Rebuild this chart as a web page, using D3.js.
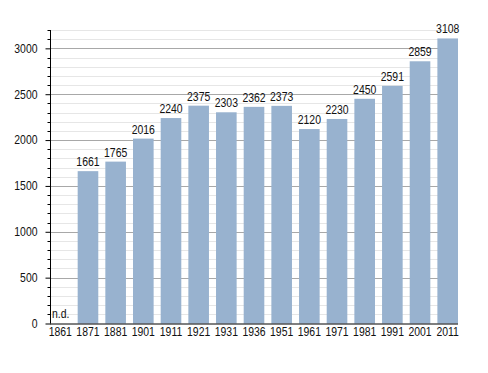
<!DOCTYPE html>
<html><head><meta charset="utf-8">
<script src="https://cdn.jsdelivr.net/npm/d3@7"></script>
<style>body{margin:0;background:#fff}svg{display:block}text{font-family:"Liberation Sans",Arial,sans-serif}</style>
</head><body>
<svg id="c" width="488" height="373"></svg>
<script>
const years = ["1861","1871","1881","1901","1911","1921","1931","1936","1951","1961","1971","1981","1991","2001","2011"];
const population = [null,1661,1765,2016,2240,2375,2303,2362,2373,2120,2230,2450,2591,2859,3108];
const yTicks = [0,500,1000,1500,2000,2500,3000];
const missingLabel = "n.d.";

(function(){
const FONT = "Liberation Sans, Arial, sans-serif";
const FS = 12, SX = 0.87;
const svg = d3.select("#c");
const mLeft = 50, mRight = 458, mTop = 30, mBottom = 323.5;
const x = d3.scaleBand().domain(years).range([mLeft, mRight]).paddingInner(0.255).paddingOuter(0).align(0);
const y = d3.scaleLinear().domain([0, 3200]).range([mBottom, mTop]);

// grid
const minor = d3.range(100, 3201, 100).filter(v => v % 500 !== 0);
svg.append("g").selectAll("line").data(minor).join("line")
  .attr("x1", mLeft + 1).attr("x2", mRight).attr("y1", d => Math.round(y(d)) + 0.5).attr("y2", d => Math.round(y(d)) + 0.5)
  .attr("stroke", "#e6e6e6").attr("stroke-width", 1);
svg.append("g").selectAll("line").data(yTicks.filter(v => v > 0)).join("line")
  .attr("x1", mLeft + 1).attr("x2", mRight).attr("y1", d => Math.round(y(d)) + 0.5).attr("y2", d => Math.round(y(d)) + 0.5)
  .attr("stroke", "#a8a8a8").attr("stroke-width", 1);

// bars
const data = years.map((yr, i) => ({yr, v: population[i]}));
svg.append("g").selectAll("rect").data(data.filter(d => d.v != null)).join("rect")
  .attr("x", d => x(d.yr)).attr("width", x.bandwidth())
  .attr("y", d => y(d.v)).attr("height", d => y(0) - y(d.v))
  .attr("fill", "#98b2cf");

// value labels
svg.append("g").selectAll("text").data(data.filter(d => d.v != null)).join("text")
  .attr("transform", d => `translate(${x(d.yr) + x.bandwidth() / 2},${y(d.v) - 5}) scale(${SX},1)`)
  .attr("text-anchor", "middle").attr("font-size", FS).attr("fill", "#111").attr("font-family", FONT)
  .text(d => d.v);
svg.append("g").selectAll("text").data(data.filter(d => d.v == null)).join("text")
  .attr("transform", d => `translate(${x(d.yr) + 2},${y(0) - 6}) scale(${SX},1)`)
  .attr("font-size", FS).attr("fill", "#111").attr("font-family", FONT).text(missingLabel);

// y axis
const yAxis = d3.axisLeft(y).tickValues(yTicks).tickSize(5).tickPadding(8).tickFormat(d3.format("d"));
const gy = svg.append("g").attr("transform", `translate(${mLeft + 0.5},0)`).call(yAxis);
gy.select(".domain").attr("d", `M0,${mTop}V${mBottom}`).attr("stroke", "#000");
gy.selectAll(".tick line").attr("stroke", "#000");
gy.selectAll(".tick text").attr("font-size", FS).attr("fill", "#111").attr("font-family", FONT)
  .attr("x", -13 / SX).attr("transform", `scale(${SX},1)`);
gy.append("g").selectAll("line").data(minor).join("line")
  .attr("x1", -3).attr("x2", 0).attr("y1", d => Math.round(y(d)) + 0.5).attr("y2", d => Math.round(y(d)) + 0.5)
  .attr("stroke", "#000");

// x axis
const xAxis = d3.axisBottom(x).tickSize(0).tickPadding(4);
const gx = svg.append("g").attr("transform", `translate(0,${mBottom})`).call(xAxis);
gx.select(".domain").attr("d", `M${mLeft},0.5H${mRight}`).attr("stroke", "#000");
gx.selectAll(".tick text").attr("font-size", FS).attr("fill", "#111").attr("font-family", FONT)
  .attr("transform", `scale(${SX},1)`);
})();
</script>
</body></html>
